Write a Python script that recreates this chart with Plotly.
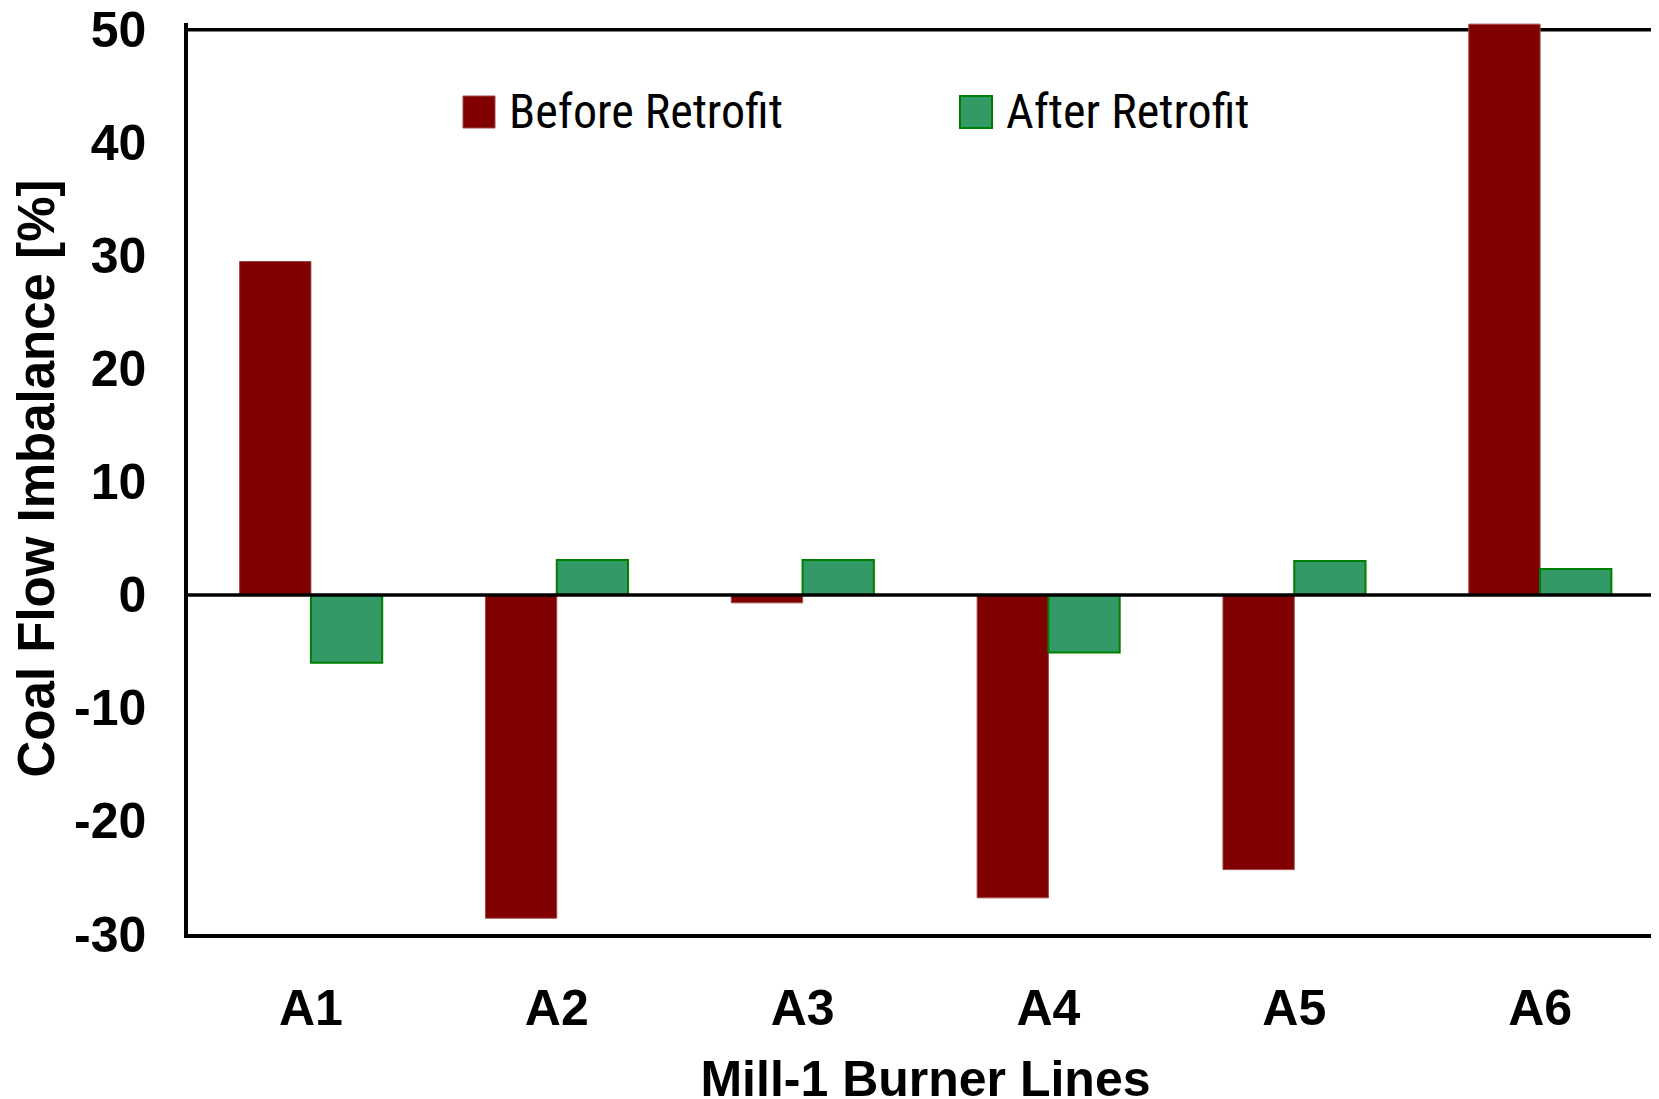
import plotly.graph_objects as go

categories = ["A1", "A2", "A3", "A4", "A5", "A6"]
before_retrofit = [29.5, -28.6, -0.7, -26.8, -24.3, 50.5]
after_retrofit = [-6.0, 3.1, 3.1, -5.1, 3.0, 2.3]
y_ticks = [-30, -20, -10, 0, 10, 20, 30, 40, 50]
y_tick_labels = ["-30", "-20", "-10", "0", "10", "20", "30", "40", "50"]

BOLD = "Liberation Sans, Arial, sans-serif"
NARROW = "Liberation Sans Narrow, Arial Narrow, Roboto Condensed, Liberation Sans, sans-serif"

# page body margin offsets the figure by 8px; compensate
OFF = 8
W, H = 1659, 1099
L, R, T, B = 180, 4, 15, 173
Y_MIN, Y_MAX, Y_TOP_LINE = -30, 50.6, 50

fig = go.Figure()
fig.add_trace(go.Bar(x=categories, y=before_retrofit, name="Before Retrofit",
                     marker=dict(color="#800000", line=dict(color="#a04848", width=1)),
                     showlegend=False))
fig.add_trace(go.Bar(x=categories, y=after_retrofit, name="After Retrofit",
                     marker=dict(color="#339966", line=dict(color="#008000", width=2)),
                     showlegend=False))

pw = W - L - R
ph = H - T - B
def px(x):  # screen x -> paper
    return (x - OFF - L) / pw
def py(y):  # screen y -> paper
    return (H - B - (y - OFF)) / ph

# top frame line at 50 (drawn below bars, the A6 bar overlaps it)
fig.add_shape(type="line", xref="paper", yref="y", x0=0, x1=1, y0=Y_TOP_LINE, y1=Y_TOP_LINE,
              line=dict(color="black", width=3.5), layer="below")
# zero line above bars
fig.add_shape(type="line", xref="paper", yref="y", x0=0, x1=1, y0=0, y1=0,
              line=dict(color="black", width=3.5), layer="above")

# manual legend
legend_items = [("Before Retrofit", "#800000", "#a04848", 1, 463),
                ("After Retrofit", "#339966", "#008000", 2, 960)]
for name, fill, edge, lw, x0 in legend_items:
    fig.add_shape(type="rect", xref="paper", yref="paper",
                  x0=px(x0), x1=px(x0 + 32), y0=py(128), y1=py(96),
                  fillcolor=fill, line=dict(color=edge, width=lw))
    fig.add_annotation(xref="paper", yref="paper", x=px(x0 + 44), y=py(112),
                       xanchor="left", yanchor="middle", showarrow=False,
                       text=name, font=dict(family=NARROW, size=48, color="black"))

fig.update_layout(
    width=W, height=H,
    margin=dict(l=L, r=R, t=T, b=B, autoexpand=False),
    paper_bgcolor="white", plot_bgcolor="white",
    barmode="group", bargap=0.42, bargroupgap=0,
    showlegend=False,
)
fig.update_xaxes(
    range=[-0.5, 5.5], showgrid=False, zeroline=False, automargin=False,
    showline=True, linecolor="black", linewidth=3.5, mirror=False,
    ticks="", ticklabelstandoff=27, ticklabeloverflow="allow",
    tickfont=dict(family=BOLD, size=50, color="black", weight="bold"),
    title=dict(text="<b>Mill-1 Burner Lines</b>", font=dict(family=BOLD, size=50, color="black"), standoff=36),
)
fig.update_yaxes(
    range=[Y_MIN, Y_MAX], tickvals=y_ticks, ticktext=y_tick_labels,
    showgrid=False, zeroline=False, automargin=False,
    showline=True, linecolor="black", linewidth=3.5, mirror=False,
    ticks="", ticklabelstandoff=28, ticklabeloverflow="allow",
    tickfont=dict(family=BOLD, size=50, color="black", weight="bold"),
    title=dict(text="<b>Coal Flow Imbalance [%]</b>", font=dict(family=BOLD, size=51, color="black"), standoff=12),
)

fig.write_html("out.html")
